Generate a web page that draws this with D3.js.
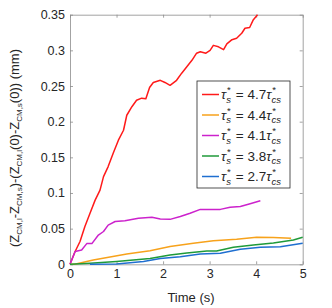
<!DOCTYPE html>
<html>
<head>
<meta charset="utf-8">
<script src="https://cdn.jsdelivr.net/npm/d3@7"></script>
<style>
  body { margin: 0; background: #fff; }
  text { font-family: "Liberation Sans", Arial, sans-serif; fill: #262626; }
</style>
</head>
<body>
<div class="chart-box"></div>
<script>
let width = 332, height = 308;
let margin = {left: 70, right: 29.3, top: 14.7, bottom: 43.7};

// series, in legend order
let labels = ["4.7", "4.4", "4.1", "3.8", "2.7"];
let colors = ["#ff1a1a", "#f7a21b", "#cc22cc", "#1f9a3a", "#1f6fd0"];

let redT = [0, 0.11, 0.215, 0.32, 0.43, 0.54, 0.645, 0.72, 0.82, 0.93, 1.04, 1.15, 1.22, 1.33, 1.43, 1.54, 1.63, 1.71, 1.79, 1.94, 2.04, 2.15, 2.29, 2.4, 2.51, 2.62, 2.72, 2.8, 2.92, 3.01, 3.08, 3.19, 3.3, 3.37, 3.48, 3.58, 3.69, 3.76, 3.86, 3.94, 4.03];
let redY = [0, 0.018, 0.032, 0.053, 0.0715, 0.09, 0.104, 0.123, 0.137, 0.156, 0.174, 0.188, 0.209, 0.221, 0.23, 0.233, 0.232, 0.248, 0.255, 0.258, 0.255, 0.251, 0.258, 0.268, 0.277, 0.286, 0.296, 0.298, 0.296, 0.3, 0.307, 0.305, 0.301, 0.309, 0.315, 0.317, 0.324, 0.331, 0.332, 0.343, 0.35];

let orangeT = [0, 0.1, 0.5, 1.22, 1.72, 2.15, 2.65, 3.08, 3.58, 4.01, 4.37, 4.75];
let orangeY = [0, 0, 0.006, 0.0145, 0.019, 0.025, 0.0295, 0.033, 0.035, 0.038, 0.0375, 0.0365];

let magentaT = [0, 0.11, 0.25, 0.36, 0.47, 0.61, 0.72, 0.82, 0.97, 1.18, 1.47, 1.76, 1.94, 2.15, 2.37, 2.58, 2.8, 3.01, 3.23, 3.44, 3.66, 3.87, 4.09];
let magentaY = [0, 0.018, 0.02, 0.029, 0.029, 0.041, 0.046, 0.055, 0.06, 0.061, 0.0645, 0.066, 0.0635, 0.063, 0.067, 0.0715, 0.077, 0.077, 0.077, 0.08, 0.081, 0.085, 0.089];

let greenT = [0, 0.43, 1.0, 1.72, 2.15, 2.51, 2.94, 3.15, 3.51, 3.94, 4.37, 4.8, 5.0];
let greenY = [0, 0.0014, 0.004, 0.008, 0.013, 0.016, 0.0187, 0.0187, 0.024, 0.027, 0.03, 0.034, 0.038];

let blueT = [0.43, 1.0, 1.58, 1.94, 2.37, 2.8, 3.23, 3.66, 4.09, 4.52, 5.0];
let blueY = [0, 0.0005, 0.004, 0.008, 0.0107, 0.0145, 0.0155, 0.021, 0.024, 0.0247, 0.0295];

let xTicks = [0, 1, 2, 3, 4, 5];
let yTicks = [0, 0.05, 0.1, 0.15, 0.2, 0.25, 0.3, 0.35];

let series = [[redT, redY], [orangeT, orangeY], [magentaT, magentaY], [greenT, greenY], [blueT, blueY]]
  .map((s, i) => ({label: labels[i], color: colors[i], pts: s[0].map((t, j) => [t, s[1][j]])}));

let svg = d3.select(".chart-box")
  .append("svg")
  .attr("width", width)
  .attr("height", height);

let x = d3.scaleLinear().domain([0, 5]).range([margin.left, width - margin.right]);
let y = d3.scaleLinear().domain([0, 0.35]).range([height - margin.bottom, margin.top]);

let fmt = d => d3.format("~g")(d);

// axes with inward ticks, box on all four sides
svg.append("g")
  .attr("transform", `translate(0,${y(0)})`)
  .call(d3.axisBottom(x).tickValues(xTicks).tickFormat(fmt).tickSizeInner(-3).tickSizeOuter(0).tickPadding(5));
svg.append("g")
  .attr("transform", `translate(0,${y(0.35)})`)
  .call(d3.axisTop(x).tickValues(xTicks).tickFormat("").tickSizeInner(-3).tickSizeOuter(0));
svg.append("g")
  .attr("transform", `translate(${x(0)},0)`)
  .call(d3.axisLeft(y).tickValues(yTicks).tickFormat(fmt).tickSizeInner(-3).tickSizeOuter(0).tickPadding(5));
svg.append("g")
  .attr("transform", `translate(${x(5)},0)`)
  .call(d3.axisRight(y).tickValues(yTicks).tickFormat("").tickSizeInner(-3).tickSizeOuter(0));

svg.selectAll(".domain").attr("stroke", "#8c8c8c").attr("stroke-width", 0.8);
svg.selectAll(".tick line").attr("stroke", "#8c8c8c").attr("stroke-width", 0.8);
svg.selectAll(".tick text").style("font-size", "12.5px").attr("fill", "#262626");

let line = d3.line().x(d => x(d[0])).y(d => y(d[1]));

svg.append("g")
  .selectAll("path")
  .data(series)
  .enter()
  .append("path")
  .attr("d", d => line(d.pts))
  .attr("fill", "none")
  .attr("stroke", d => d.color)
  .attr("stroke-width", 1.5)
  .attr("stroke-linejoin", "round");

// axis titles
svg.append("text")
  .attr("x", 191)
  .attr("y", 302)
  .attr("text-anchor", "middle")
  .style("font-size", "13px")
  .text("Time (s)");

let ylab = svg.append("text")
  .attr("transform", "translate(22,148) rotate(-90)")
  .attr("text-anchor", "middle")
  .style("font-size", "13px");
let parts = [["(Z", 0], ["CM,l", 1], ["-Z", 0], ["CM,s", 1], [")-(Z", 0], ["CM,l", 1], ["(0)-Z", 0], ["CM,s", 1], ["(0)) (mm)", 0]];
parts.forEach(p => {
  ylab.append("tspan")
    .attr("dy", p[1] ? 3 : (ylab.selectAll("tspan").size() ? -3 : 0))
    .style("font-size", p[1] ? "8px" : "13px")
    .text(p[0]);
});

// legend
let leg = svg.append("g");
leg.append("rect")
  .attr("x", 197).attr("y", 81)
  .attr("width", 93).attr("height", 107)
  .attr("fill", "#fff")
  .attr("stroke", "#262626")
  .attr("stroke-width", 0.8);

series.forEach((s, i) => {
  let ly = 94.5 + i * 20.5;
  leg.append("line")
    .attr("x1", 202).attr("x2", 219)
    .attr("y1", ly).attr("y2", ly)
    .attr("stroke", s.color).attr("stroke-width", 1.5);
  let t = leg.append("text")
    .attr("x", 221).attr("y", ly + 4.5)
    .style("font-size", "13.5px");
  t.append("tspan").style("font-style", "italic").text("\u03c4");
  t.append("tspan").attr("dx", 1).attr("dy", -6).style("font-size", "9.5px").text("*");
  t.append("tspan").attr("dx", -4.5).attr("dy", 9.5).style("font-size", "9.5px").style("font-style", "italic").text("s");
  t.append("tspan").attr("dx", 1).attr("dy", -3.5).text(" = " + s.label);
  t.append("tspan").style("font-style", "italic").text("\u03c4");
  t.append("tspan").attr("dx", 1).attr("dy", -6).style("font-size", "9.5px").text("*");
  t.append("tspan").attr("dx", -4.5).attr("dy", 9.5).style("font-size", "9.5px").style("font-style", "italic").text("cs");
});
</script>
</body>
</html>
